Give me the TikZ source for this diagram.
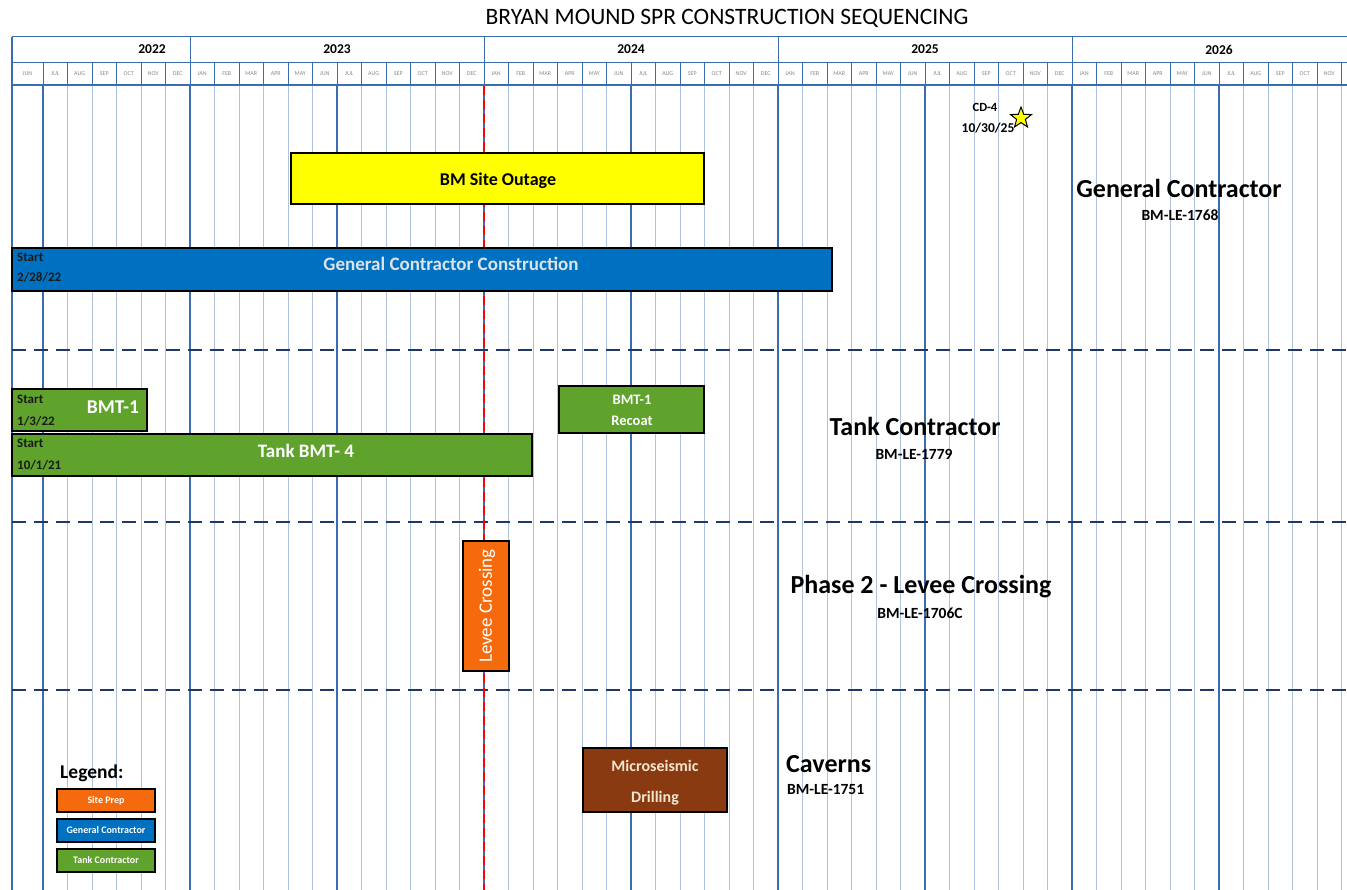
\documentclass[tikz,border=0pt]{standalone}
\usepackage{fontspec}
\setmainfont{Carlito}
\usetikzlibrary{shapes.geometric}
\definecolor{gridthin}{HTML}{AFC3E0}
\definecolor{gridthick}{HTML}{3A6DAE}
\definecolor{navy}{HTML}{1F3864}
\definecolor{barblue}{HTML}{0070C0}
\definecolor{bargreen}{HTML}{5FA22C}
\definecolor{barorange}{HTML}{F46A0C}
\definecolor{barbrown}{HTML}{8A3A10}
\definecolor{baryellow}{HTML}{FFFF00}
\definecolor{monthgray}{HTML}{8A8A8A}
\definecolor{cream}{HTML}{F3E6D0}
\definecolor{lightbartext}{HTML}{DDE3EA}
\definecolor{starttext}{HTML}{1A1A1A}
\begin{document}
\begin{tikzpicture}[x=1pt,y=-1pt,
  bar/.style={draw=black, line width=2.4pt, inner sep=0pt, outer sep=0pt},
  bartext/.style={font=\bfseries\fontsize{18}{20}\selectfont, inner sep=0pt},
  smalltext/.style={font=\bfseries\fontsize{13}{15}\selectfont, inner sep=0pt, anchor=west, text=starttext},
  monthlab/.style={font=\fontsize{6}{7}\selectfont, text=monthgray, inner sep=0pt},
  yearlab/.style={font=\bfseries\fontsize{13.5}{15}\selectfont, inner sep=0pt},
  seclab/.style={font=\bfseries\fontsize{26}{30}\selectfont, inner sep=0pt},
  seccode/.style={font=\bfseries\fontsize{15.5}{18}\selectfont, inner sep=0pt},
  legbox/.style={draw=black, line width=2pt, minimum width=98pt, minimum height=23pt, inner sep=0pt, text=white, font=\bfseries\fontsize{10}{12}\selectfont},
  sepline/.style={navy, line width=2.4pt, dash pattern=on 14pt off 8pt},
  todayline/.style={red, line width=2.6pt, dash pattern=on 9pt off 5pt}
]
\useasboundingbox (0,0) rectangle (1347,890);
\clip (0,0) rectangle (1347,890);
\fill[white] (0,0) rectangle (1347,890);

% title
\node[font=\fontsize{23.5}{27}\selectfont, inner sep=0pt] (title) at (727,18) {BRYAN MOUND SPR CONSTRUCTION SEQUENCING};

% header box
\draw[gridthick, line width=1pt] (12,37) rectangle (1360,85);
\draw[gridthick, line width=0.8pt] (12,62) -- (1360,62);
% month separators in header
\foreach \m in {-6,...,47} {
  \draw[gridthick, line width=0.6pt] ({190+24.5*\m},62) -- ({190+24.5*\m},85);
}
% year separators
\foreach \y in {0,12,24,36} {
  \draw[gridthick, line width=1pt] ({190+24.5*\y},37) -- ({190+24.5*\y},85);
}
% year labels
\node[yearlab] (y2022) at (152,49.5) {2022};
\node[yearlab] (y2023) at (337,49.5) {2023};
\node[yearlab] (y2024) at (631,49.5) {2024};
\node[yearlab] (y2025) at (925,49.5) {2025};
\node[yearlab] (y2026) at (1219,49.5) {2026};
% month labels
\node[monthlab] (mjun) at (27.5,73.5) {JUN};
\foreach \lab [count=\i] in {JUL,AUG,SEP,OCT,NOV,DEC,
  JAN,FEB,MAR,APR,MAY,JUN,JUL,AUG,SEP,OCT,NOV,DEC,
  JAN,FEB,MAR,APR,MAY,JUN,JUL,AUG,SEP,OCT,NOV,DEC,
  JAN,FEB,MAR,APR,MAY,JUN,JUL,AUG,SEP,OCT,NOV,DEC,
  JAN,FEB,MAR,APR,MAY,JUN,JUL,AUG,SEP,OCT,NOV,DEC} {
  \node[monthlab] (m\i) at ({190+24.5*(\i-7+0.5)},73.5) {\lab};
}

% chart grid
\foreach \m in {-6,...,47} {
  \draw[gridthin, line width=1pt] ({190+24.5*\m},85) -- ({190+24.5*\m},890);
}
\foreach \m in {-6,0,6,12,18,24,30,36,42} {
  \draw[gridthick, line width=1.6pt] ({190+24.5*\m},85) -- ({190+24.5*\m},890);
}
\draw[gridthick, line width=1.6pt] (12,37) -- (12,890);
\draw[gridthick, line width=1.2pt] (12,85) -- (1360,85);

% section separators
\draw[sepline] (12,350) -- (1360,350);
\draw[sepline] (12,522) -- (1360,522);
\draw[sepline] (12,690) -- (1360,690);

% today line
\draw[todayline] (484,86) -- (484,890);

% CD-4 milestone
\node[font=\bfseries\fontsize{12.5}{14}\selectfont, inner sep=0pt] (cd4) at (985,107) {CD-4};
\node[font=\bfseries\fontsize{13.5}{15}\selectfont, inner sep=0pt] (cd4date) at (988,128) {10/30/25};
\node[star, star points=5, star point ratio=2.4, fill=baryellow, draw=black, line width=1pt, minimum size=22pt, inner sep=0pt] (cd4star) at (1021,118) {};

% General contractor section
\node[bar, fill=baryellow, minimum width=413pt, minimum height=51pt] (outage) at (497.5,178.5) {};
\node[bartext, text=black] (outagetxt) at (498,181) {BM Site Outage};
\node[bar, fill=barblue, minimum width=820pt, minimum height=43pt] (gcc) at (422,269.5) {};
\node[bartext, text=lightbartext, font=\bfseries\fontsize{19}{21}\selectfont] (gcctxt) at (451,264) {General Contractor Construction};
\node[smalltext] (gccstart) at (17,257) {Start};
\node[smalltext] (gccdate) at (17,277) {2/28/22};
\node[seclab] (gclab) at (1179,188) {General Contractor};
\node[seccode] (gccode) at (1180,215) {BM-LE-1768};

% Tank section
\node[bar, fill=bargreen, minimum width=135pt, minimum height=42pt] (bmt1) at (79.5,410) {};
\node[smalltext] (bmt1start) at (17,399) {Start};
\node[smalltext] (bmt1date) at (17,421) {1/3/22};
\node[bartext, text=white, font=\bfseries\fontsize{19.5}{21}\selectfont] (bmt1txt) at (113,407) {BMT-1};
\node[bar, fill=bargreen, minimum width=520pt, minimum height=42pt] (bmt4) at (272,455) {};
\node[smalltext] (bmt4start) at (17,443) {Start};
\node[smalltext] (bmt4date) at (17,465) {10/1/21};
\node[bartext, text=white, font=\bfseries\fontsize{19}{21}\selectfont] (bmt4txt) at (306,451) {Tank BMT- 4};
\node[bar, fill=bargreen, minimum width=145pt, minimum height=47pt] (recoat) at (631.5,409.5) {};
\node[bartext, text=white, font=\bfseries\fontsize{14.5}{16}\selectfont] (recoat1) at (632,400) {BMT-1};
\node[bartext, text=white, font=\bfseries\fontsize{14.5}{16}\selectfont] (recoat2) at (632,421) {Recoat};
\node[seclab] (tclab) at (915,426) {Tank Contractor};
\node[seccode] (tccode) at (914,454) {BM-LE-1779};

% Levee section
\node[bar, fill=barorange, minimum width=46pt, minimum height=130pt] (levee) at (486,606) {};
\node[bartext, text=white, font=\fontsize{19}{21}\selectfont, rotate=90] (leveetxt) at (487,606) {Levee Crossing};
\node[seclab] (lclab) at (921,587) {Phase 2 - Levee Crossing};
\node[seccode] (lccode) at (920,613) {BM-LE-1706C};

% Caverns section
\node[bar, fill=barbrown, minimum width=144pt, minimum height=64pt] (micro) at (655,780) {};
\node[bartext, text=cream, font=\bfseries\fontsize{16}{18}\selectfont] (micro1) at (655,766) {Microseismic};
\node[bartext, text=cream, font=\bfseries\fontsize{16}{18}\selectfont] (micro2) at (655,798) {Drilling};
\node[seclab, anchor=west] (cavlab) at (786,764) {Caverns};
\node[seccode, anchor=west] (cavcode) at (787,790) {BM-LE-1751};

% Legend
\node[font=\bfseries\fontsize{19.5}{22}\selectfont, inner sep=0pt, anchor=west] (legend) at (60,773) {Legend:};
\node[legbox, fill=barorange] (legsite) at (106,800.5) {Site Prep};
\node[legbox, fill=barblue] (leggc) at (106,830) {General Contractor};
\node[legbox, fill=bargreen] (legtank) at (106,860) {Tank Contractor};
\end{tikzpicture}
\end{document}
